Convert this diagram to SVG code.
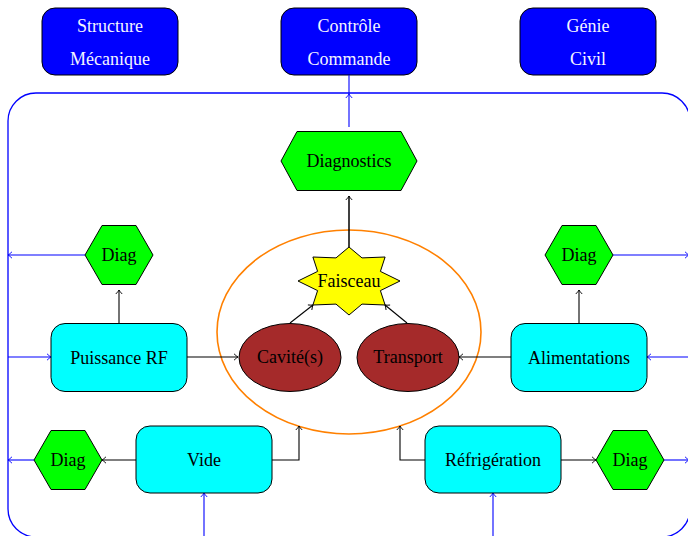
<svg xmlns="http://www.w3.org/2000/svg" width="688" height="536" viewBox="0 0 688 536">
<style>
text{font-family:"Liberation Serif","DejaVu Serif",serif;font-size:18px;text-anchor:middle;dominant-baseline:central;fill:#000}
.top rect{fill:#0000ff;stroke:#000;stroke-width:1}
.top text{fill:#f4f4ff}
.box rect{fill:#00ffff;stroke:#000;stroke-width:1}
.hex polygon{fill:#00ff00;stroke:#000;stroke-width:1}
.ell ellipse{fill:#a52a2a;stroke:#000;stroke-width:1}
.k{stroke:#000;stroke-width:1.1;fill:none;marker-end:url(#ak)}
.kn{stroke:#000;stroke-width:1.1;fill:none}
.b{stroke:#0000ff;stroke-width:1.1;fill:none;marker-end:url(#ab)}
.bn{stroke:#0000ff;stroke-width:1.1;fill:none}
</style>
<defs>
<marker id="ak" markerUnits="userSpaceOnUse" markerWidth="10" markerHeight="10" viewBox="-6 -5 7 10" refX="0" refY="0" orient="auto" overflow="visible">
<path d="M-4,-3.2 Q-1.5,-0.8 0,0 Q-1.5,0.8 -4,3.2" fill="none" stroke="#000" stroke-width="0.9"/>
</marker>
<marker id="ab" markerUnits="userSpaceOnUse" markerWidth="10" markerHeight="10" viewBox="-6 -5 7 10" refX="0" refY="0" orient="auto" overflow="visible">
<path d="M-4,-3.2 Q-1.5,-0.8 0,0 Q-1.5,0.8 -4,3.2" fill="none" stroke="#0000ff" stroke-width="0.9"/>
</marker>
</defs>

<rect id="frame" x="8" y="93" width="682" height="444" rx="28" ry="28" fill="none" stroke="#0000ff" stroke-width="1.3"/>
<ellipse id="beam-zone" cx="349" cy="332" rx="132" ry="102" fill="none" stroke="#ff8000" stroke-width="1.6"/>

<g id="structure" class="top"><rect x="42" y="8" width="136" height="67" rx="13"/><text x="110" y="26">Structure</text><text x="110" y="59">Mécanique</text></g>
<g id="controle" class="top"><rect x="281" y="8" width="136" height="67" rx="13"/><text x="349" y="26">Contrôle</text><text x="349" y="59">Commande</text></g>
<g id="genie" class="top"><rect x="520" y="8" width="136" height="67" rx="13"/><text x="588" y="26">Génie</text><text x="588" y="59">Civil</text></g>

<g id="connectors">
<path class="b" d="M349,127 L349,94"/>
<path class="bn" d="M349,94 L349,75"/>
<path class="k" d="M349,247 L349,196" style="stroke-width:1.5"/>
<path class="k" d="M290,323 L313,305"/>
<path class="k" d="M407,323 L385,305"/>
<path class="k" d="M187,357 L238,357"/>
<path class="k" d="M511,357 L459,357"/>
<path class="k" d="M119,324 L119,290"/>
<path class="k" d="M579,324 L579,290"/>
<path class="b" d="M85,255 L8,255"/>
<path class="b" d="M8,357 L51,357"/>
<path class="b" d="M613,255 L689,255"/>
<path class="b" d="M690,357 L647,357"/>
<path class="k" d="M136,460 L102,460"/>
<path class="b" d="M34,460 L8,460"/>
<path class="k" d="M272,460 L299,460 L299,426"/>
<path class="k" d="M425,460 L400,460 L400,426"/>
<path class="k" d="M561,460 L596,460"/>
<path class="b" d="M664,460 L689,460"/>
<path class="b" d="M204,536 L204,493"/>
<path class="b" d="M493,536 L493,493"/>
</g>

<g id="diagnostics" class="hex"><polygon points="281,161 297,131.5 401,131.5 417,161 401,190.5 297,190.5"/><text x="349" y="161">Diagnostics</text></g>

<g id="faisceau"><polygon points="349,247 362,257.9 385.1,257 380.4,271.4 400,281 380.4,290.6 385.1,305 362,304.1 349,315 336,304.1 312.9,305 317.6,290.6 298,281 317.6,271.4 312.9,257 336,257.9" fill="#ffff00" stroke="#000" stroke-width="1"/><text x="349" y="281">Faisceau</text></g>

<g id="cavites" class="ell"><ellipse cx="290" cy="357.5" rx="51" ry="34"/><text x="290" y="357">Cavité(s)</text></g>
<g id="transport" class="ell"><ellipse cx="408" cy="357.5" rx="51" ry="34"/><text x="408" y="357">Transport</text></g>

<g id="puissance" class="box"><rect x="51" y="323.5" width="136" height="68" rx="14"/><text x="119" y="357.5">Puissance RF</text></g>
<g id="alimentations" class="box"><rect x="511" y="323.5" width="136" height="68" rx="14"/><text x="579" y="357.5">Alimentations</text></g>
<g id="vide" class="box"><rect x="136" y="426" width="136" height="67" rx="14"/><text x="204" y="460">Vide</text></g>
<g id="refrigeration" class="box"><rect x="425" y="426" width="136" height="67" rx="14"/><text x="493" y="460">Réfrigération</text></g>

<g id="diag-rf" class="hex"><polygon points="85,255 102,225.5 136,225.5 153,255 136,284.5 102,284.5"/><text x="119" y="255">Diag</text></g>
<g id="diag-alim" class="hex"><polygon points="545,255 562,225.5 596,225.5 613,255 596,284.5 562,284.5"/><text x="579" y="255">Diag</text></g>
<g id="diag-vide" class="hex"><polygon points="34,460 51,430.5 85,430.5 102,460 85,489.5 51,489.5"/><text x="68" y="460">Diag</text></g>
<g id="diag-refrig" class="hex"><polygon points="596,460 613,430.5 647,430.5 664,460 647,489.5 613,489.5"/><text x="630" y="460">Diag</text></g>
</svg>
